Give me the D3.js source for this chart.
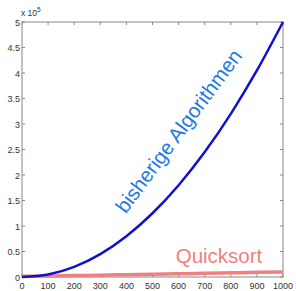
<!DOCTYPE html>
<html><head><meta charset="utf-8">
<script src="https://cdn.jsdelivr.net/npm/d3@7"></script>
<style>body{margin:0;background:#fff}svg{display:block}</style>
</head><body>
<script>
const nValues = [0,100,200,300,400,500,600,700,800,900,1000];
const bisherige = [0,0.05,0.2,0.45,0.8,1.25,1.8,2.45,3.2,4.05,5.0];
const quicksort = [0.015,0.02,0.028,0.036,0.045,0.054,0.063,0.072,0.082,0.092,0.1];
const xTicks = [0,100,200,300,400,500,600,700,800,900,1000];
const yTicks = [0,0.5,1,1.5,2,2.5,3,3.5,4,4.5,5];

const W=296,H=291, m={l:22,r:13,t:22,b:13};
const svg=d3.select("body").append("svg").attr("width",W).attr("height",H);
const x=d3.scaleLinear().domain([0,1000]).range([m.l,W-m.r]);
const y=d3.scaleLinear().domain([0,5]).range([H-m.b-1,m.t]);
const font="Arial, 'Liberation Sans', sans-serif";
const g=svg.append("g");
g.append("rect").attr("x",x(0)).attr("y",y(5)).attr("width",x(1000)-x(0)).attr("height",y(0)-y(5))
 .attr("fill","none").attr("stroke","#888").attr("stroke-width",1);
const tl=3;
xTicks.forEach(t=>{
  g.append("line").attr("x1",x(t)).attr("x2",x(t)).attr("y1",y(0)).attr("y2",y(0)-tl).attr("stroke","#888");
  g.append("line").attr("x1",x(t)).attr("x2",x(t)).attr("y1",y(5)).attr("y2",y(5)+tl).attr("stroke","#888");
  g.append("text").attr("x",x(t)).attr("y",y(0)+12).attr("text-anchor","middle")
   .attr("font-family",font).attr("font-size",9).attr("fill","#333").text(t);
});
yTicks.forEach(t=>{
  g.append("line").attr("x1",x(0)).attr("x2",x(0)+tl).attr("y1",y(t)).attr("y2",y(t)).attr("stroke","#888");
  g.append("line").attr("x1",x(1000)).attr("x2",x(1000)-tl).attr("y1",y(t)).attr("y2",y(t)).attr("stroke","#888");
  g.append("text").attr("x",x(0)-2).attr("y",y(t)+3.5).attr("text-anchor","end")
   .attr("font-family",font).attr("font-size",9).attr("fill","#333").text(t);
});
const ex=g.append("text").attr("x",x(0)-1).attr("y",y(5)-6).attr("font-family",font).attr("font-size",8.5).attr("fill","#333");
ex.append("tspan").text("x 10");
ex.append("tspan").attr("dy",-4).attr("font-size",6.5).text("5");

const line=d3.line().x((d,i)=>x(nValues[i])).y(d=>y(d)).curve(d3.curveMonotoneX);
g.append("path").datum(quicksort).attr("d",line).attr("fill","none").attr("stroke","#f08080").attr("stroke-width",3.5);
g.append("path").datum(bisherige).attr("d",line).attr("fill","none").attr("stroke","#1010d0").attr("stroke-width",2.5);

g.append("text").attr("transform","translate(180,132) rotate(-53.5)").attr("text-anchor","middle")
 .attr("dominant-baseline","middle").attr("font-family",font).attr("font-size",20.5).attr("fill","#1e78e6").text("bisherige Algorithmen");
g.append("text").attr("x",219).attr("y",263).attr("text-anchor","middle")
 .attr("font-family",font).attr("font-size",20.5).attr("fill","#f08080").text("Quicksort");
</script>
</body></html>
